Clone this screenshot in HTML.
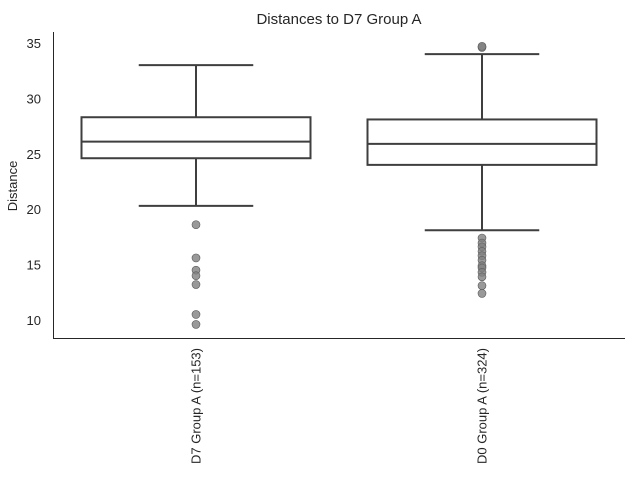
<!DOCTYPE html>
<html><head><meta charset="utf-8"><style>
body{margin:0;background:#fff;}
svg{display:block;font-family:"Liberation Sans","DejaVu Sans",sans-serif;}
</style></head><body>
<svg id="chart" width="640" height="480">
<text x="339" y="24" text-anchor="middle" font-size="15" fill="#262626">Distances to D7 Group A</text>
<text transform="translate(17,186) rotate(-90)" text-anchor="middle" font-size="13" fill="#262626">Distance</text>
<g id="yticks"></g>
<g id="boxes"></g>
<g id="xlabels"></g>
<line x1="53.5" y1="32" x2="53.5" y2="338.5" stroke="#262626" stroke-width="1"/>
<line x1="53" y1="338.5" x2="625" y2="338.5" stroke="#262626" stroke-width="1"/>
</svg>
<script>
const categories = ["D7 Group A (n=153)", "D0 Group A (n=324)"];
const whiskerLow = [20.3, 18.1];
const q1 = [24.6, 24.0];
const median = [26.1, 25.9];
const q3 = [28.3, 28.1];
const whiskerHigh = [33.0, 34.0];
const outliers = [
  [18.6, 15.6, 14.5, 14.0, 13.2, 10.5, 9.6],
  [34.6, 34.7, 17.4, 16.95, 16.6, 16.2, 15.8, 15.4, 14.9, 14.7, 14.3, 13.9, 13.1, 12.4]
];
const yTicks = [10, 15, 20, 25, 30, 35];

const NS = "http://www.w3.org/2000/svg";
const y = v => 43 + (35 - v) * 11.08;
const xCenter = i => 53 + (i + 0.5) * (572 / categories.length);
const boxW = 229;
function mk(tag, attrs, parent) {
  const e = document.createElementNS(NS, tag);
  for (const k in attrs) e.setAttribute(k, attrs[k]);
  parent.appendChild(e);
  return e;
}
const yt = document.getElementById("yticks");
yTicks.forEach(t => {
  const el = mk("text", {x: 41, y: y(t) + 5, "text-anchor": "end", "font-size": 13, fill: "#262626"}, yt);
  el.textContent = t;
  
  
});
const bx = document.getElementById("boxes");
const xl = document.getElementById("xlabels");
const st = {stroke: "#3f3f3f", "stroke-width": 2, fill: "none"};
categories.forEach((c, i) => {
  const cx = xCenter(i);
  const g = mk("g", {}, bx);
  
  
  mk("line", Object.assign({x1: cx, x2: cx, y1: y(whiskerHigh[i]), y2: y(q3[i])}, st), g);
  mk("line", Object.assign({x1: cx, x2: cx, y1: y(q1[i]), y2: y(whiskerLow[i])}, st), g);
  mk("line", Object.assign({x1: cx - boxW / 4, x2: cx + boxW / 4, y1: y(whiskerHigh[i]), y2: y(whiskerHigh[i])}, st), g);
  mk("line", Object.assign({x1: cx - boxW / 4, x2: cx + boxW / 4, y1: y(whiskerLow[i]), y2: y(whiskerLow[i])}, st), g);
  mk("rect", Object.assign({x: cx - boxW / 2, y: y(q3[i]), width: boxW, height: y(q1[i]) - y(q3[i])}, st, {fill: "#fff"}), g);
  mk("line", Object.assign({x1: cx - boxW / 2, x2: cx + boxW / 2, y1: y(median[i]), y2: y(median[i])}, st), g);
  outliers[i].forEach(v => {
    const p = mk("circle", {cx: cx, cy: y(v), r: 4, fill: "#7f7f7f", "fill-opacity": 0.8, stroke: "#5a5a5a", "stroke-width": 0.6}, g);
    
    
  });
  const t = mk("text", {transform: "translate(" + (cx + 4.5) + ",348) rotate(-90)", "text-anchor": "end", "font-size": 13, fill: "#262626"}, xl);
  t.textContent = c;
  
  
});
</script>
</body></html>
